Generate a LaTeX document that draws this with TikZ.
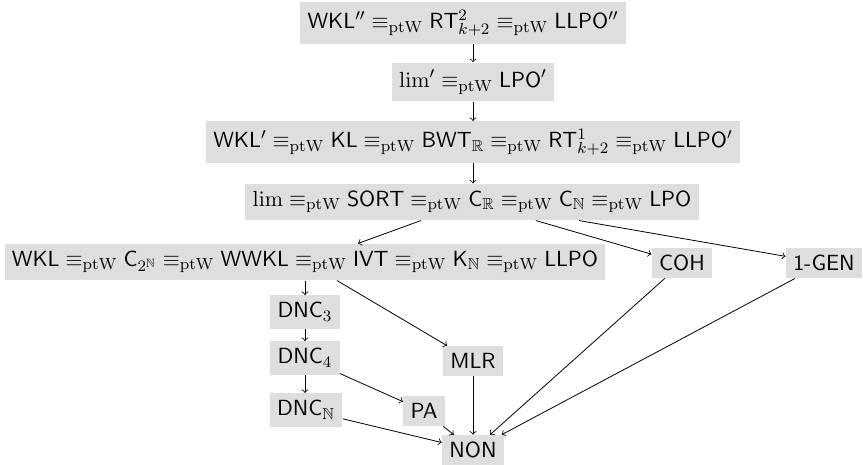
\documentclass[tikz,border=0pt,11pt]{standalone}
\usepackage{amsmath}
\usepackage{amssymb}
\usepackage{tikz}
\usetikzlibrary{calc}

\newcommand{\ptw}{\equiv_{\mathrm{ptW}}}
\definecolor{boxgray}{RGB}{221,222,224}

\begin{document}
\begin{tikzpicture}[x=0.5pt, y=-0.5pt, box/.style={fill=boxgray}]
  \useasboundingbox (0,0) rectangle (863,465);

  \node[box] (wklpp) at (463,23) {$\mathsf{WKL}'' \ptw \mathsf{RT}^2_{k+2} \ptw \mathsf{LLPO}''$};
  \node[box] (limp) at (473,82) {$\lim' \ptw \mathsf{LPO}'$};
  \node[box] (wklp) at (473,142) {$\mathsf{WKL}' \ptw \mathsf{KL} \ptw \mathsf{BWT}_{\mathbb{R}} \ptw \mathsf{RT}^1_{k+2} \ptw \mathsf{LLPO}'$};
  \node[box] (lim) at (472,202) {$\lim \ptw \mathsf{SORT} \ptw \mathsf{C}_{\mathbb{R}} \ptw \mathsf{C}_{\mathbb{N}} \ptw \mathsf{LPO}$};
  \node[box] (wkl) at (305,262) {$\mathsf{WKL} \ptw \mathsf{C}_{2^{\mathbb{N}}} \ptw \mathsf{WWKL} \ptw \mathsf{IVT} \ptw \mathsf{K}_{\mathbb{N}} \ptw \mathsf{LLPO}$};
  \node[box] (coh) at (682,263) {$\mathsf{COH}$};
  \node[box] (gen) at (824,263) {\textsf{1-GEN}};
  \node[box] (dncthree) at (305,312) {$\mathsf{DNC}_3$};
  \node[box] (dncfour) at (305,358) {$\mathsf{DNC}_4$};
  \node[box] (dncn) at (306,410) {$\mathsf{DNC}_{\mathbb{N}}$};
  \node[box] (mlr) at (473,361) {$\mathsf{MLR}$};
  \node[box] (pa) at (424,411) {$\mathsf{PA}$};
  \node[box] (non) at (473,450) {$\mathsf{NON}$};

  \draw[->] (limp.north |- wklpp.south) -- (limp.north);
  \draw[->] (limp.south) -- (limp.south |- wklp.north);
  \draw[->] (wklp.south) -- (wklp.south |- lim.north);
  \draw[->] (lim) -- ([xshift=26.5pt]wkl.north);
  \draw[->] (lim) -- (coh);
  \draw[->] (lim) -- (gen);
  \draw[->] (dncthree.north |- wkl.south) -- (dncthree.north);
  \draw[->] ([xshift=16pt]wkl.south) -- (mlr);
  \draw[->] (dncthree.south) -- (dncthree.south |- dncfour.north);
  \draw[->] (dncfour.south) -- (dncfour.south |- dncn.north);
  \draw[->] (dncfour) -- (pa);
  \draw[->] (dncn) -- (non);
  \draw[->] (pa) -- (non);
  \draw[->] (mlr) -- (non);
  \draw[->] (coh) -- (non);
  \draw[->] (gen) -- (non);
\end{tikzpicture}
\end{document}
